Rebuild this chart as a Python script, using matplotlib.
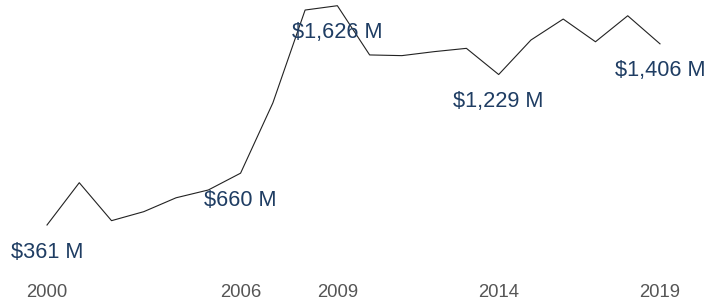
import matplotlib.pyplot as plt
import matplotlib.transforms as mtransforms

# Datos (millones de dólares)
years = list(range(2000, 2020))
values = [361, 605, 386, 438, 518, 563, 660, 1065, 1601, 1626,
          1342, 1338, 1361, 1380, 1229, 1428, 1549, 1418, 1568, 1406]

label_years = [2000, 2006, 2009, 2014, 2019]
label_texts = ["$361 M", "$660 M", "$1,626 M", "$1,229 M", "$1,406 M"]
tick_years = [2000, 2006, 2009, 2014, 2019]

fig = plt.figure(figsize=(7.12, 3.03), dpi=100)
ax = fig.add_axes([0, 0, 1, 1])
ax.plot(years, values, color="#222222", linewidth=0.8)

ax.set_xlim(1998.543, 2020.612)
ax.set_ylim(-88.9, 1658.9)
ax.axis("off")

# Etiquetas de valores bajo los puntos
for yr, txt in zip(label_years, label_texts):
    ax.annotate(txt.replace("$", r"\$"), (yr, values[years.index(yr)]),
                xytext=(0, -27), textcoords="offset pixels",
                ha="center", va="center", fontsize=15.7,
                color="#1f3d63", family="Liberation Sans")

# Años en el eje
trans = mtransforms.blended_transform_factory(ax.transData, ax.transAxes)
for yr in tick_years:
    ax.text(yr, 0.036, str(yr), transform=trans, ha="center", va="center",
            fontsize=13.3, color="#555555", family="Liberation Sans")

fig.savefig("out.png", dpi=100)
